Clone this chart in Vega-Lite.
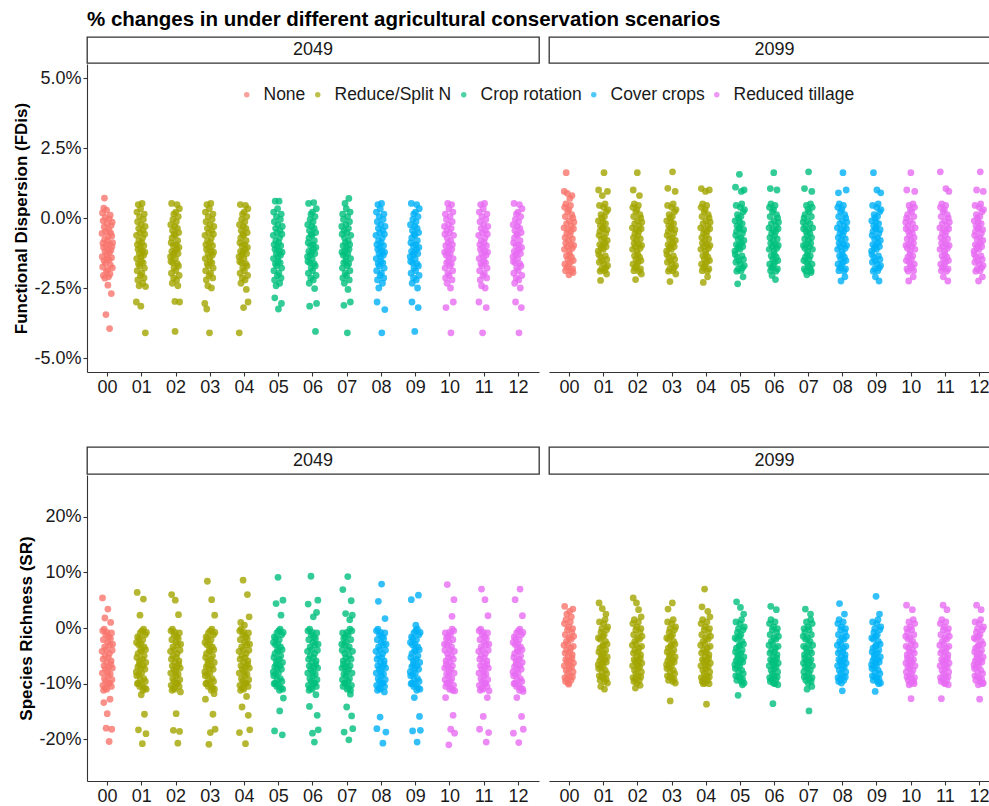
{
"$schema": "https://vega.github.io/schema/vega-lite/v6.json",
"background": "white",
"padding": {"left": 12, "top": 9, "right": 0, "bottom": 0},
"title": {"text": "% changes in under different agricultural conservation scenarios", "anchor": "start", "frame": "group", "fontSize": 20.5, "fontWeight": "bold", "color": "#000000", "font": "Liberation Sans", "offset": 6, "dx": 0},
"config": {
  "font": "Liberation Sans",
  "view": {"stroke": null},
  "axis": {"grid": false, "domainColor": "#333333", "domainWidth": 1.1, "tickColor": "#333333", "tickWidth": 1.1, "tickSize": 4, "labelFontSize": 18, "labelColor": "#1a1a1a", "labelFont": "Liberation Sans", "labelPadding": 2, "titleFontSize": 17, "titleFontWeight": "bold", "titleColor": "#000000", "titleFont": "Liberation Sans"},
  "legend": {"orient": "none", "legendX": 151, "legendY": 49, "direction": "horizontal", "gridAlign": "none", "symbolType": "circle", "symbolSize": 30, "symbolOpacity": 0.7, "symbolStrokeWidth": 0, "labelFontSize": 17.5, "labelColor": "#1a1a1a", "labelFont": "Liberation Sans", "labelOffset": 8, "columnPadding": 3}
},
"datasets": {"d": [
{"m":"F","yr":"2049","s":"00","t":"None","v":[-0.55,-1.38,0.18,-1.75,-0.9,-0.1,-2.05,-1.05,0.35,-1.52,-0.32,0.71,-0.76,-2.15,-1.2,0.02,-1.62,-0.48,-3.45,-0.98,-1.92,0.28,-1.3,-0.2,-1.45,-0.82,-1.85,-2.4,-1.12,-0.66,-2.1,-0.42,-1.5,-0.03,-1.25,-3.95,-0.93,-2.0,0.1,-1.68,-0.53,-1.15,-0.27,-2.7,-1.42,-0.64,-1.02,-0.15,-1.78,-0.88]},
{"m":"F","yr":"2049","s":"01","t":"Reduce/Split N","v":[-3.0,-0.62,-1.45,0.21,-1.88,-0.95,-0.13,-2.21,-1.12,0.48,-1.63,-0.37,-0.81,-2.42,-1.27,0.05,-1.71,-0.52,-1.05,-2.05,0.33,-3.15,-1.38,-0.24,-1.55,-0.88,-1.97,0.52,-1.19,-0.71,-2.33,-0.45,-1.6,-0.05,-1.33,-0.99,-2.14,0.14,-1.79,-0.58,-1.22,-0.3,-4.1,-2.45]},
{"m":"F","yr":"2049","s":"02","t":"Reduce/Split N","v":[-1.38,-0.24,-1.55,-0.88,-1.97,0.52,-1.19,-0.71,-2.33,-0.45,-1.6,-0.05,-1.33,-0.99,-2.14,0.14,-1.79,-0.58,-1.22,-0.3,-2.98,-4.05,-0.62,-1.45,0.21,-1.88,-0.95,-0.13,-2.21,-1.12,0.48,-1.63,-0.37,-0.81,-2.42,-1.27,0.05,-1.71,-0.52,-1.05,-2.05,0.33,-3.0]},
{"m":"F","yr":"2049","s":"03","t":"Reduce/Split N","v":[-3.05,-0.62,-1.45,0.21,-1.88,-0.95,-0.13,-2.21,-1.12,-3.25,0.48,-1.63,-0.37,-0.81,-2.42,-1.27,0.05,-1.71,-0.52,-1.05,-2.05,0.33,-4.1,-1.38,-0.24,-1.55,-0.88,-1.97,0.52,-1.19,-0.71,-2.5,-0.45,-1.6,-0.05,-1.33,-0.99,-2.14,0.14,-1.79,-0.58,-1.22,-0.3]},
{"m":"F","yr":"2049","s":"04","t":"Reduce/Split N","v":[-1.38,-4.1,-0.24,-1.55,-0.88,-1.97,0.48,-1.19,-0.71,-2.33,-0.45,-1.6,-0.05,-1.33,-0.99,-2.14,0.14,-1.79,-0.58,-1.22,-0.3,-3.2,-0.62,-1.45,0.21,-1.88,-0.95,-0.13,-2.21,-1.12,0.45,-1.63,-0.37,-0.81,-2.55,-1.27,0.05,-1.71,-0.52,-1.05,-2.05,0.33,-3.0]},
{"m":"F","yr":"2049","s":"05","t":"Crop rotation","v":[-0.62,-1.45,0.21,-1.88,-0.95,-0.13,-2.21,-2.85,-1.12,0.6,-1.63,-0.37,-0.81,-2.42,-1.27,0.05,-1.71,-0.52,-1.05,-2.05,0.33,-1.38,-0.24,-1.55,-3.25,-0.88,-1.97,0.6,-1.19,-0.71,-2.33,-0.45,-1.6,-0.05,-1.33,-0.99,-2.14,0.14,-3.05,-1.79,-0.58,-1.22,-0.3]},
{"m":"F","yr":"2049","s":"06","t":"Crop rotation","v":[-1.38,-0.24,-1.55,-0.88,-1.97,0.52,-1.19,-0.71,-2.33,-0.45,-3.15,-1.6,-0.05,-1.33,-0.99,-2.14,0.14,-1.79,-0.58,-1.22,-0.3,-0.62,-1.45,0.21,-1.88,-0.95,-0.13,-2.21,-1.12,0.55,-1.63,-0.37,-0.81,-2.52,-1.27,0.05,-1.71,-4.05,-0.52,-1.05,-2.05,0.33,-3.05]},
{"m":"F","yr":"2049","s":"07","t":"Crop rotation","v":[-0.3,-1.22,-0.58,-1.79,0.14,-2.14,-0.99,-1.33,-0.05,-1.6,-3.12,-0.45,-2.33,-0.71,-1.19,0.52,-1.97,-0.88,-1.55,-0.24,-1.38,0.33,-2.05,-1.05,-0.52,-1.71,-4.1,0.05,-1.27,-2.55,-0.81,-0.37,-1.63,0.7,-1.12,-2.21,-0.13,-0.95,-1.88,0.21,-3.0,-1.45,-0.62]},
{"m":"F","yr":"2049","s":"08","t":"Cover crops","v":[-0.62,-1.45,0.21,-1.88,-0.95,-3.0,-0.13,-2.21,-1.12,0.48,-1.63,-0.37,-0.81,-2.5,-1.27,0.05,-1.71,-0.52,-1.05,-2.05,0.33,-1.38,-0.24,-1.55,-0.88,-1.97,0.52,-4.1,-1.19,-0.71,-2.33,-0.45,-1.6,-0.05,-1.33,-0.99,-2.14,0.14,-1.79,-0.58,-1.22,-3.27,-0.3]},
{"m":"F","yr":"2049","s":"09","t":"Cover crops","v":[-1.38,-0.24,-1.55,-0.88,-1.97,0.52,-1.19,-0.71,-3.0,-2.33,-0.45,-1.6,-0.05,-1.33,-0.99,-2.14,0.14,-1.79,-0.58,-1.22,-0.3,-4.05,-0.62,-1.45,0.21,-1.88,-0.95,-0.13,-2.21,-1.12,0.48,-1.63,-0.37,-0.81,-2.5,-1.27,0.05,-3.2,-1.71,-0.52,-1.05,-2.05,0.33]},
{"m":"F","yr":"2049","s":"10","t":"Reduced tillage","v":[-0.3,-1.22,-0.58,-1.79,0.14,-2.14,-0.99,-3.2,-1.33,-0.05,-1.6,-0.45,-2.33,-0.71,-1.19,0.52,-1.97,-0.88,-1.55,-0.24,-1.38,0.33,-2.05,-1.05,-0.52,-1.71,0.05,-1.27,-2.5,-0.81,-4.1,-0.37,-1.63,0.48,-1.12,-2.21,-0.13,-0.95,-1.88,0.21,-1.45,-3.0,-0.62]},
{"m":"F","yr":"2049","s":"11","t":"Reduced tillage","v":[-0.62,-3.0,-1.45,0.21,-1.88,-0.95,-0.13,-2.21,-1.12,0.48,-1.63,-0.37,-0.81,-2.42,-1.27,0.05,-1.71,-0.52,-4.1,-1.05,-2.05,0.33,-1.38,-0.24,-1.55,-0.88,-1.97,0.52,-1.19,-0.71,-2.5,-0.45,-1.6,-0.05,-1.33,-3.2,-0.99,-2.14,0.14,-1.79,-0.58,-1.22,-0.3]},
{"m":"F","yr":"2049","s":"12","t":"Reduced tillage","v":[-1.38,-0.24,-1.55,-0.88,-1.97,0.52,-1.19,-0.71,-2.33,-0.45,-1.6,-0.05,-3.0,-1.33,-0.99,-2.14,0.14,-1.79,-0.58,-1.22,-0.3,-0.62,-1.45,0.21,-1.88,-0.95,-0.13,-2.21,-4.1,-1.12,0.48,-1.63,-0.37,-0.81,-2.5,-1.27,0.05,-1.71,-0.52,-3.2,-1.05,-2.05,0.33]},
{"m":"F","yr":"2099","s":"00","t":"None","v":[-0.35,0.95,-1.12,0.38,-1.65,-0.7,0.05,-1.88,-0.9,0.5,1.62,-1.35,-0.2,-0.55,-1.78,0.88,-1.02,0.22,-1.48,-0.42,-0.8,-1.7,0.3,-2.03,-1.18,-0.1,-1.3,0.7,-0.62,-1.58,0.45,-0.95,-0.48,-1.9,-0.28,-1.4,0.12,0.8,-1.08,-0.75,-1.82,0.0,-1.95,-1.52,-0.38,-0.98,-0.15]},
{"m":"F","yr":"2099","s":"01","t":"Reduce/Split N","v":[-1.18,-0.1,1.0,-1.3,-0.62,-1.58,0.45,-0.95,-0.48,-1.9,-0.28,-2.23,-1.4,0.12,-1.08,-0.75,-1.82,0.0,-1.52,0.8,-0.38,-0.98,-0.15,-0.35,-1.12,0.38,-1.65,1.62,-0.7,0.05,-1.88,-0.9,0.5,-1.35,-0.2,-0.55,-1.78,-1.02,0.22,-2.0,-1.48,-0.42,-0.8,0.95,-1.7,0.3]},
{"m":"F","yr":"2099","s":"02","t":"Reduce/Split N","v":[-0.35,-1.12,0.38,-1.65,1.0,-0.7,0.05,-1.88,-0.9,0.5,-1.35,-0.2,-0.55,-1.78,-1.02,-2.2,0.22,-1.48,-0.42,-0.8,-1.7,0.3,-1.18,1.62,-0.1,-1.3,-0.62,-1.58,0.45,-0.95,-0.48,-1.9,-0.28,0.8,-1.4,0.12,-1.08,-0.75,-1.82,0.0,-1.52,-0.38,-2.0,-0.98,-0.15]},
{"m":"F","yr":"2099","s":"03","t":"Reduce/Split N","v":[-1.18,-0.1,-1.3,-0.62,-1.58,0.45,1.06,-0.95,-0.48,-1.9,-0.28,-1.4,0.12,-1.08,-0.75,-1.82,-2.27,0.0,-1.52,-0.38,-0.98,-0.15,-0.35,-1.12,0.38,-1.65,-0.7,0.05,1.65,-1.88,-0.9,0.5,-1.35,-0.2,-0.55,-1.78,-1.02,0.22,-1.48,-0.42,0.95,-0.8,-1.7,-2.0,0.3]},
{"m":"F","yr":"2099","s":"04","t":"Reduce/Split N","v":[-0.35,-1.12,0.38,1.05,-1.65,-0.7,0.05,-1.88,-0.9,0.5,-1.35,-0.2,-2.3,-0.55,-1.78,-1.02,0.22,-1.48,-0.42,-0.8,-1.7,0.3,0.95,-1.18,-0.1,-1.3,-0.62,-1.58,0.45,-0.95,-0.48,-1.9,-2.1,-0.28,-1.4,0.12,-1.08,-0.75,-1.82,0.0,1.0,-1.52,-0.38,-0.98,-0.15]},
{"m":"F","yr":"2099","s":"05","t":"Crop rotation","v":[-1.18,-0.1,-1.3,1.1,-0.62,-1.58,0.45,-0.95,-0.48,-1.9,-0.28,-1.4,0.12,-2.35,-1.08,-0.75,-1.82,0.0,-1.52,-0.38,-0.98,1.56,-0.15,-0.35,-1.12,0.38,-1.65,-0.7,0.05,-1.88,0.95,-0.9,0.5,-1.35,-0.2,-0.55,-1.78,-1.02,-2.1,0.22,-1.48,-0.42,-0.8,1.0,-1.7,0.3]},
{"m":"F","yr":"2099","s":"06","t":"Crop rotation","v":[-0.35,-1.12,0.38,-1.65,-0.7,0.05,1.05,-1.88,-0.9,0.5,-1.35,-0.2,-0.55,-1.78,-2.05,-1.02,0.22,-1.48,-0.42,-0.8,-1.7,0.3,1.62,-1.18,-0.1,-1.3,-0.62,-1.58,0.45,-0.95,-2.2,-0.48,-1.9,-0.28,-1.4,0.12,-1.08,1.0,-0.75,-1.82,0.0,-1.52,-0.38,-0.98,-0.15]},
{"m":"F","yr":"2099","s":"07","t":"Crop rotation","v":[-0.15,-0.98,-0.38,-1.52,0.0,-1.82,1.05,-0.75,-1.08,0.12,-1.4,-0.28,-1.9,-0.48,-0.95,0.45,-1.58,-2.03,-0.62,-1.3,-0.1,-1.18,0.3,-1.7,-0.8,1.65,-0.42,-1.48,0.22,-1.02,-1.78,-0.55,-0.2,-1.35,0.5,-0.9,-1.95,-1.88,0.05,-0.7,0.95,-1.65,0.38,-1.12,-0.35]},
{"m":"F","yr":"2099","s":"08","t":"Cover crops","v":[-0.35,-1.12,0.38,-1.65,-0.7,0.9,0.05,-1.88,-0.9,0.5,-1.35,-0.2,-0.55,-1.78,-1.02,0.22,-1.48,-2.25,-0.42,-0.8,-1.7,0.3,-1.18,-0.1,-1.3,-0.62,1.62,-1.58,0.45,-0.95,-0.48,-1.9,-0.28,-1.4,0.12,-2.1,-1.08,-0.75,-1.82,0.0,-1.52,1.0,-0.38,-0.98,-0.15]},
{"m":"F","yr":"2099","s":"09","t":"Cover crops","v":[-1.18,-0.1,-1.3,-0.62,-1.58,0.45,-0.95,-0.48,-1.9,1.62,-0.28,-1.4,0.12,-1.08,-0.75,-1.82,0.0,-1.52,-2.1,-0.38,-0.98,-0.15,-0.35,-1.12,0.38,1.0,-1.65,-0.7,0.05,-1.88,-0.9,0.5,-1.35,-0.2,-0.55,-2.25,-1.78,-1.02,0.22,-1.48,-0.42,-0.8,-1.7,0.9,0.3]},
{"m":"F","yr":"2099","s":"10","t":"Reduced tillage","v":[-0.15,-0.98,-0.38,-1.52,0.0,1.0,-1.82,-0.75,-1.08,0.12,-1.4,-0.28,-1.9,-0.48,-2.25,-0.95,0.45,-1.58,-0.62,-1.3,-0.1,-1.18,0.3,-1.7,1.62,-0.8,-0.42,-1.48,0.22,-1.02,-1.78,-0.55,-0.2,-1.35,0.5,-2.1,-0.9,-1.88,0.05,-0.7,-1.65,0.38,0.95,-1.12,-0.35]},
{"m":"F","yr":"2099","s":"11","t":"Reduced tillage","v":[-0.35,-1.12,1.65,0.38,-1.65,-0.7,0.05,-1.88,-0.9,0.5,-1.35,-0.2,-0.55,-1.78,-1.02,0.22,-2.1,-1.48,-0.42,-0.8,-1.7,0.3,-1.18,-0.1,-1.3,-0.62,-1.58,0.45,1.05,-0.95,-0.48,-1.9,-0.28,-1.4,0.12,-1.08,-0.75,-2.25,-1.82,0.0,-1.52,-0.38,0.95,-0.98,-0.15]},
{"m":"F","yr":"2099","s":"12","t":"Reduced tillage","v":[-1.18,-0.1,-1.3,-0.62,-1.58,0.45,-0.95,-0.48,-1.9,-0.28,-1.4,0.12,1.0,-1.08,-0.75,-1.82,0.0,-1.52,-0.38,-0.98,-0.15,-2.25,-0.35,-1.12,0.38,-1.65,-0.7,0.05,-1.88,1.65,-0.9,0.5,-1.35,-0.2,-0.55,-1.78,-1.02,0.22,-1.48,-2.1,-0.42,-0.8,-1.7,0.95,0.3]},
{"m":"S","yr":"2049","s":"00","t":"None","v":[-4.2,-8.1,5.4,-0.5,-10.3,-5.6,-2.1,-11.2,-13.4,-6.8,-0.2,-9.1,-3.4,1.8,-5.0,-10.8,-7.4,-1.2,-9.6,-18.0,-3.9,-6.2,-11.0,-0.8,-15.4,-7.9,-2.6,3.4,-8.6,-5.3,-10.0,-1.6,-7.0,-20.4,-4.6,-9.9,-3.0,-12.8,-8.3,-1.9,1.0,-6.5,-5.9,-10.5,-0.9,-18.2,-9.3,-4.0,-7.2,-2.9]},
{"m":"S","yr":"2049","s":"01","t":"Reduce/Split N","v":[-7.9,-2.6,-8.6,-5.3,6.4,-10.0,-1.6,-7.0,-4.6,-9.9,-18.3,-3.0,-8.3,-1.9,-6.5,-5.9,-10.5,2.3,-0.9,-9.3,-4.0,-7.2,-2.9,-12.0,-4.2,-8.1,-0.5,-10.3,-20.8,-5.6,-2.1,-11.2,-6.8,5.2,-0.2,-9.1,-3.4,-5.0,-15.5,-10.8,-7.4,-1.2,-9.6,-3.9,-6.2,-19.0,-11.0,-0.8]},
{"m":"S","yr":"2049","s":"02","t":"Reduce/Split N","v":[-4.2,-8.1,-0.5,-10.3,-5.6,6.0,-2.1,-11.2,-6.8,-0.2,-9.1,-3.4,-5.0,-18.4,-10.8,-7.4,-1.2,-9.6,-3.9,-6.2,-11.0,-0.8,5.0,-7.9,-2.6,-8.6,-15.4,-5.3,-10.0,-1.6,-7.0,-4.6,-9.9,-3.0,-20.7,-8.3,-1.9,2.4,-6.5,-5.9,-10.5,-0.9,-18.6,-9.3,-4.0,-7.2,-11.5,-2.9]},
{"m":"S","yr":"2049","s":"03","t":"Reduce/Split N","v":[-7.9,-2.6,-8.6,-12.8,-5.3,-10.0,-1.6,-7.0,-4.6,-9.9,-3.0,-8.3,8.4,-1.9,-6.5,-5.9,-10.5,-0.9,-9.3,-20.9,-4.0,-7.2,-2.9,-4.2,-8.1,-0.5,-18.8,-10.3,-5.6,-2.1,-11.2,-6.8,5.1,-0.2,-9.1,-3.4,-5.0,-10.8,-15.5,-7.4,-1.2,-9.6,-3.9,-11.8,-6.2,-11.0,2.3,-0.8,-18.2]},
{"m":"S","yr":"2049","s":"04","t":"Reduce/Split N","v":[-4.2,-8.1,-18.8,-0.5,-10.3,-5.6,-2.1,-11.2,1.0,-6.8,-0.2,-9.1,-3.4,-5.0,-14.2,-10.8,-7.4,-1.2,-9.6,8.6,-3.9,-6.2,-11.0,-0.8,-7.9,0.5,-2.6,-8.6,-5.3,-10.0,-20.8,-1.6,-7.0,-4.6,-9.9,-12.3,-3.0,-8.3,-1.9,6.0,-6.5,-5.9,-10.5,-15.7,-0.9,-9.3,-4.0,2.0,-7.2,-2.9,-18.3]},
{"m":"S","yr":"2049","s":"05","t":"Crop rotation","v":[-7.9,-2.6,-8.6,-5.3,-10.0,-1.6,-18.5,-7.0,-4.6,-9.9,-3.0,-8.3,-1.9,4.4,-6.5,-5.9,-10.5,-0.9,-9.3,-4.0,-7.2,-2.9,9.1,-4.2,-8.1,-0.5,-10.3,-5.6,-2.1,-11.2,-14.9,-6.8,-0.2,-9.1,-3.4,-5.0,2.3,-10.8,-7.4,-1.2,-9.6,-3.9,-19.2,-6.2,-11.0,5.0,-0.8,-12.6]},
{"m":"S","yr":"2049","s":"06","t":"Crop rotation","v":[-4.2,-8.1,-0.5,4.3,-10.3,-5.6,-2.1,-11.2,-6.8,-14.1,-0.2,-9.1,-3.4,-5.0,-10.8,-7.4,9.3,-1.2,-9.6,-3.9,-6.2,-11.0,-0.8,-18.9,-7.9,-2.6,-8.6,2.0,-5.3,-10.0,-1.6,-7.0,-20.5,-4.6,-9.9,-3.0,-8.3,-1.9,-6.5,-12.0,-5.9,-10.5,2.8,-0.9,-9.3,-15.7,-4.0,-7.2,5.0,-2.9,-18.3]},
{"m":"S","yr":"2049","s":"07","t":"Crop rotation","v":[-2.9,-7.2,-4.0,-9.3,-0.9,6.9,-10.5,-5.9,-6.5,-1.9,-8.3,-18.7,-3.0,-9.9,-4.6,-7.0,-1.6,-10.0,2.6,-5.3,-8.6,-2.6,-7.9,-14.2,-0.8,-11.0,-6.2,-3.9,9.25,-9.6,-1.2,-7.4,-10.8,-20.1,-5.0,-3.4,-9.1,1.5,-0.2,-6.8,-11.9,-11.2,-2.1,-5.6,4.9,-10.3,-15.8,-0.5,-8.1,2.3,-4.2,-18.1]},
{"m":"S","yr":"2049","s":"08","t":"Cover crops","v":[-4.2,-8.1,-0.5,-10.3,-18.1,-5.6,-2.1,-11.2,-6.8,-0.2,-9.1,4.8,-3.4,-5.0,-10.8,-7.4,-1.2,-9.6,-3.9,-16.0,-6.2,-11.0,-0.8,-7.9,-2.6,-8.6,7.9,-5.3,-10.0,-1.6,-7.0,-4.6,-20.7,-9.9,-3.0,-8.3,-1.9,-6.5,-5.9,-11.5,-10.5,-0.9,1.7,-9.3,-4.0,-7.2,-18.7,-2.9]},
{"m":"S","yr":"2049","s":"09","t":"Cover crops","v":[-7.9,-2.6,-8.6,-5.3,-10.0,5.1,-1.6,-7.0,-4.6,-9.9,-3.0,-18.5,-8.3,-1.9,-6.5,-5.9,-10.5,-0.9,-9.3,-12.5,-4.0,-7.2,-2.9,-4.2,-8.1,-0.5,0.5,-10.3,-5.6,-2.1,-11.2,-6.8,-20.5,-0.2,-9.1,-3.4,-5.0,-10.8,5.9,-7.4,-1.2,-9.6,-3.9,-15.9,-6.2,-11.0,-0.8,-18.4]},
{"m":"S","yr":"2049","s":"10","t":"Reduced tillage","v":[-2.9,-7.2,-4.0,-9.3,-0.9,-12.5,-10.5,-5.9,-6.5,-1.9,-8.3,-3.0,-9.9,7.8,-4.6,-7.0,-1.6,-10.0,-5.3,-8.6,-21.0,-2.6,-7.9,-0.8,-11.0,-6.2,-3.9,-9.6,-1.2,-18.2,-7.4,-10.8,-5.0,-3.4,-9.1,2.1,-0.2,-6.8,-11.2,-2.1,-15.7,-5.6,-10.3,-0.5,5.1,-8.1,-4.2,-18.9,-11.3]},
{"m":"S","yr":"2049","s":"11","t":"Reduced tillage","v":[-4.2,-8.1,-0.5,-10.3,-18.2,-5.6,-2.1,-11.2,-6.8,-0.2,-9.1,-3.4,-5.0,7.0,-10.8,-7.4,-1.2,-9.6,-3.9,-6.2,-11.0,-15.9,-0.8,-7.9,-2.6,-8.6,-5.3,-10.0,-1.6,5.1,-7.0,-4.6,-9.9,-3.0,-8.3,-20.5,-1.9,-6.5,-5.9,-10.5,-12.5,-0.9,-9.3,2.2,-4.0,-7.2,-18.8,-2.9,-11.3]},
{"m":"S","yr":"2049","s":"12","t":"Reduced tillage","v":[-7.9,-2.6,-18.9,-8.6,-5.3,-10.0,-1.6,-7.0,-4.6,-9.9,5.1,-3.0,-8.3,-1.9,-6.5,-5.9,-10.5,-0.9,-12.5,-9.3,-4.0,-7.2,-2.9,-4.2,-8.1,-0.5,-10.3,-20.6,-5.6,-2.1,-11.2,-6.8,-0.2,7.0,-9.1,-3.4,-5.0,-10.8,-7.4,-1.2,-15.9,-9.6,-3.9,-6.2,2.2,-11.0,-0.8,-11.4,-18.2]},
{"m":"S","yr":"2099","s":"00","t":"None","v":[-3.1,-6.8,0.8,3.9,-8.9,-4.5,-1.2,-9.6,-5.7,1.5,-7.6,-2.4,-4.0,2.5,-9.2,-6.1,-0.3,-8.2,-2.9,-5.2,-9.9,0.2,-10.1,-6.6,-1.8,-7.3,3.0,-4.3,-8.6,1.1,-5.9,-3.6,-9.4,-2.0,2.0,-7.0,-0.8,-5.4,-4.8,-8.8,-0.1,3.4,-7.9,-3.3,-6.3,-1.5]},
{"m":"S","yr":"2099","s":"01","t":"Reduce/Split N","v":[-6.6,-1.8,-7.3,-4.3,4.5,-8.6,1.1,-5.9,-3.6,-9.4,-2.0,-7.0,-10.5,-0.8,-5.4,-4.8,-8.8,-0.1,-7.9,3.5,-3.3,-6.3,-1.5,-3.1,-6.8,0.8,-8.9,-4.5,-1.2,-11.0,-9.6,-5.7,1.5,-7.6,-2.4,-4.0,2.5,-9.2,-6.1,-0.3,-8.2,-2.9,-5.2,-9.9,0.2]},
{"m":"S","yr":"2099","s":"02","t":"Reduce/Split N","v":[-3.1,-6.8,0.8,-8.9,5.4,-4.5,-1.2,-9.6,-5.7,1.5,-7.6,-2.4,-4.0,-9.2,-10.8,-6.1,-0.3,-8.2,-2.9,4.5,-5.2,-9.9,0.2,-6.6,-1.8,-7.3,-4.3,-8.6,1.1,3.3,-5.9,-3.6,-9.4,-2.0,-7.0,-0.8,-10.3,-5.4,-4.8,-8.8,-0.1,2.0,-7.9,-3.3,-6.3,-1.5]},
{"m":"S","yr":"2099","s":"03","t":"Reduce/Split N","v":[-6.6,-1.8,-7.3,-4.3,-8.6,1.1,-5.9,3.4,-3.6,-9.4,-2.0,-7.0,-0.8,-5.4,-4.8,-8.8,-0.1,-13.1,-7.9,-3.3,-6.3,-1.5,-3.1,-6.8,0.8,-8.9,-4.5,4.5,-1.2,-9.6,-5.7,1.5,-7.6,-2.4,-4.0,-9.2,-6.1,-0.3,-8.2,-2.9,-5.2,-9.9,0.2]},
{"m":"S","yr":"2099","s":"04","t":"Reduce/Split N","v":[-3.1,-6.8,0.8,-8.9,-4.5,-1.2,3.8,-9.6,-5.7,1.5,-7.6,-2.4,-10.0,-4.0,-9.2,-6.1,-0.3,-8.2,7.0,-2.9,-5.2,-9.9,0.2,-6.6,-1.8,-7.3,-4.3,-13.7,-8.6,1.1,-5.9,-3.6,-9.4,3.0,-2.0,-7.0,-0.8,-5.4,-4.8,-10.0,-8.8,-0.1,-7.9,2.0,-3.3,-6.3,-1.5]},
{"m":"S","yr":"2099","s":"05","t":"Crop rotation","v":[-6.6,-1.8,-7.3,-4.3,-8.6,1.1,-5.9,-3.6,4.7,-9.4,-2.0,-7.0,-0.8,-5.4,-4.8,-12.1,-8.8,-0.1,-7.9,-3.3,-6.3,-1.5,-3.1,-6.8,0.8,-8.9,3.7,-4.5,-1.2,-9.6,-5.7,1.5,-7.6,-2.4,-4.0,-10.2,-9.2,-6.1,-0.3,-8.2,-2.9,2.5,-5.2,-9.9,0.2]},
{"m":"S","yr":"2099","s":"06","t":"Crop rotation","v":[-3.1,-6.8,0.8,-8.9,-4.5,-1.2,-9.6,-5.7,3.9,1.5,-7.6,-2.4,-4.0,-9.2,-6.1,-0.3,-8.2,-2.9,-13.6,-5.2,-9.9,0.2,-6.6,-1.8,-7.3,-4.3,-8.6,-10.0,1.1,-5.9,-3.6,-9.4,-2.0,-7.0,3.3,-0.8,-5.4,-4.8,-8.8,-0.1,-7.9,-10.2,-3.3,-6.3,-1.5]},
{"m":"S","yr":"2099","s":"07","t":"Crop rotation","v":[-1.5,-6.3,-3.3,-7.9,-0.1,-8.8,-4.8,-5.4,-0.8,-7.0,3.4,-2.0,-9.4,-3.6,-5.9,1.1,-8.6,-4.3,-11.0,-7.3,-1.8,-6.6,0.2,-9.9,-5.2,-2.9,-8.2,-14.9,-0.3,-6.1,-9.2,-4.0,-2.4,-7.6,2.5,1.5,-5.7,-9.6,-1.2,-4.5,-10.5,-8.9,0.8,-6.8,-3.1]},
{"m":"S","yr":"2099","s":"08","t":"Cover crops","v":[-3.1,-6.8,0.8,-8.9,-4.5,-1.2,-9.6,-5.7,1.5,-7.6,4.4,-2.4,-4.0,-9.2,-6.1,-0.3,-8.2,-2.9,-5.2,-9.9,0.2,-6.6,-1.8,-11.3,-7.3,-4.3,-8.6,1.1,-5.9,-3.6,-9.4,-2.0,-7.0,2.5,-0.8,-5.4,-4.8,-8.8,-0.1,-7.9,-3.3,-6.3,-1.5]},
{"m":"S","yr":"2099","s":"09","t":"Cover crops","v":[-6.6,-1.8,-7.3,-4.3,-8.6,1.1,-5.9,-3.6,-9.4,-2.0,-7.0,-0.8,-5.4,-4.8,-8.8,-0.1,-7.9,-11.4,-3.3,-6.3,-1.5,5.7,-3.1,-6.8,0.8,-8.9,-4.5,-1.2,-9.6,-5.7,1.5,-7.6,-2.4,-10.0,-4.0,-9.2,-6.1,2.5,-0.3,-8.2,-2.9,-5.2,-9.9,0.2]},
{"m":"S","yr":"2099","s":"10","t":"Reduced tillage","v":[-1.5,-6.3,-3.3,-7.9,4.1,-0.1,-8.8,-4.8,-5.4,-0.8,-7.0,-2.0,-9.4,-3.6,-5.9,1.1,-10.2,-8.6,-4.3,-7.3,-1.8,-6.6,0.2,-9.9,-5.2,-12.7,-2.9,-8.2,-0.3,-6.1,-9.2,3.3,-4.0,-2.4,-7.6,1.5,-5.7,-9.6,-1.2,-10.0,-4.5,-8.9,0.8,-6.8,-3.1]},
{"m":"S","yr":"2099","s":"11","t":"Reduced tillage","v":[-3.1,-6.8,0.8,-8.9,-4.5,-1.2,-9.6,-12.7,-5.7,1.5,-7.6,-2.4,-4.0,-9.2,-6.1,4.1,-0.3,-8.2,-2.9,-5.2,-9.9,0.2,-6.6,-1.8,-7.3,-10.0,-4.3,-8.6,1.1,-5.9,-3.6,-9.4,-2.0,3.3,-7.0,-0.8,-5.4,-4.8,-8.8,-10.2,-0.1,-7.9,-3.3,-6.3,-1.5]},
{"m":"S","yr":"2099","s":"12","t":"Reduced tillage","v":[-6.6,-1.8,-7.3,-4.3,-8.6,1.1,-5.9,-3.6,-9.4,-2.0,-7.0,-0.8,4.1,-5.4,-4.8,-8.8,-0.1,-7.9,-3.3,-6.3,-10.2,-1.5,-3.1,-6.8,0.8,-8.9,-12.8,-4.5,-1.2,-9.6,-5.7,1.5,-7.6,3.3,-2.4,-4.0,-9.2,-6.1,-0.3,-10.0,-8.2,-2.9,-5.2,-9.9,0.2]}
]},
"spacing": 50,
"vconcat": [
 {"spacing": 8, "hconcat": [
  {"spacing": 0, "vconcat": [
   {"width": 452, "height": 26, "data": {"values": [{"yr": "2049"}]}, "mark": {"type": "text", "fontSize": 18, "color": "#1a1a1a", "font": "Liberation Sans"}, "encoding": {"text": {"field": "yr"}}, "view": {"stroke": "#333333", "strokeWidth": 1.3}},
   {"width": 452, "height": 308, "data": {"name": "d"},
    "transform": [{"filter": "datum.m === 'F' && datum.yr === '2049'"}, {"flatten": ["v"]}, {"window": [{"op": "row_number", "as": "i"}], "groupby": ["s"]}],
    "mark": {"type": "circle", "size": 46, "opacity": 0.8},
    "encoding": {
     "x": {"field": "s", "type": "ordinal", "scale": {"type": "band", "paddingInner": 0.68, "paddingOuter": 0.44}, "axis": {"title": null, "labelAngle": 0, "bandPosition": 0.5}},
     "xOffset": {"field": "i", "type": "nominal", "scale": {"paddingInner": 0, "paddingOuter": 0}},
     "y": {"field": "v", "type": "quantitative", "scale": {"domain": [-5.5, 5.5], "nice": false, "zero": false}, "axis": {"values": [-5, -2.5, 0, 2.5, 5], "labelExpr": "(datum.value < 0 ? '-' : '') + format(abs(datum.value), '.1f') + '%'", "title": "Functional Dispersion (FDis)", "titlePadding": 3}},
     "color": {"field": "t", "type": "nominal", "scale": {"domain": ["None", "Reduce/Split N", "Crop rotation", "Cover crops", "Reduced tillage"], "range": ["#F8766D", "#A3A500", "#00BF7D", "#00B0F6", "#E76BF3"]}, "legend": {"title": null}}
    }}
  ]},
  {"spacing": 0, "vconcat": [
   {"width": 451, "height": 26, "data": {"values": [{"yr": "2099"}]}, "mark": {"type": "text", "fontSize": 18, "color": "#1a1a1a", "font": "Liberation Sans"}, "encoding": {"text": {"field": "yr"}}, "view": {"stroke": "#333333", "strokeWidth": 1.3}},
   {"width": 451, "height": 308, "data": {"name": "d"},
    "transform": [{"filter": "datum.m === 'F' && datum.yr === '2099'"}, {"flatten": ["v"]}, {"window": [{"op": "row_number", "as": "i"}], "groupby": ["s"]}],
    "mark": {"type": "circle", "size": 46, "opacity": 0.8},
    "encoding": {
     "x": {"field": "s", "type": "ordinal", "scale": {"type": "band", "paddingInner": 0.68, "paddingOuter": 0.44}, "axis": {"title": null, "labelAngle": 0, "bandPosition": 0.5}},
     "xOffset": {"field": "i", "type": "nominal", "scale": {"paddingInner": 0, "paddingOuter": 0}},
     "y": {"field": "v", "type": "quantitative", "scale": {"domain": [-5.5, 5.5], "nice": false, "zero": false}, "axis": null},
     "color": {"field": "t", "type": "nominal", "scale": {"domain": ["None", "Reduce/Split N", "Crop rotation", "Cover crops", "Reduced tillage"], "range": ["#F8766D", "#A3A500", "#00BF7D", "#00B0F6", "#E76BF3"]}, "legend": {"title": null}}
    }}
  ]}
 ]},
 {"spacing": 8, "hconcat": [
  {"spacing": 0, "vconcat": [
   {"width": 452, "height": 27, "data": {"values": [{"yr": "2049"}]}, "mark": {"type": "text", "fontSize": 18, "color": "#1a1a1a", "font": "Liberation Sans"}, "encoding": {"text": {"field": "yr"}}, "view": {"stroke": "#333333", "strokeWidth": 1.3}},
   {"width": 452, "height": 306, "data": {"name": "d"},
    "transform": [{"filter": "datum.m === 'S' && datum.yr === '2049'"}, {"flatten": ["v"]}, {"window": [{"op": "row_number", "as": "i"}], "groupby": ["s"]}],
    "mark": {"type": "circle", "size": 46, "opacity": 0.8},
    "encoding": {
     "x": {"field": "s", "type": "ordinal", "scale": {"type": "band", "paddingInner": 0.68, "paddingOuter": 0.44}, "axis": {"title": null, "labelAngle": 0, "bandPosition": 0.5}},
     "xOffset": {"field": "i", "type": "nominal", "scale": {"paddingInner": 0, "paddingOuter": 0}},
     "y": {"field": "v", "type": "quantitative", "scale": {"domain": [-27.5, 27.5], "nice": false, "zero": false}, "axis": {"values": [-20, -10, 0, 10, 20], "labelExpr": "(datum.value < 0 ? '-' : '') + format(abs(datum.value), '.0f') + '%'", "title": "Species Richness (SR)", "titlePadding": 3}},
     "color": {"field": "t", "type": "nominal", "scale": {"domain": ["None", "Reduce/Split N", "Crop rotation", "Cover crops", "Reduced tillage"], "range": ["#F8766D", "#A3A500", "#00BF7D", "#00B0F6", "#E76BF3"]}, "legend": {"title": null}}
    }}
  ]},
  {"spacing": 0, "vconcat": [
   {"width": 451, "height": 27, "data": {"values": [{"yr": "2099"}]}, "mark": {"type": "text", "fontSize": 18, "color": "#1a1a1a", "font": "Liberation Sans"}, "encoding": {"text": {"field": "yr"}}, "view": {"stroke": "#333333", "strokeWidth": 1.3}},
   {"width": 451, "height": 306, "data": {"name": "d"},
    "transform": [{"filter": "datum.m === 'S' && datum.yr === '2099'"}, {"flatten": ["v"]}, {"window": [{"op": "row_number", "as": "i"}], "groupby": ["s"]}],
    "mark": {"type": "circle", "size": 46, "opacity": 0.8},
    "encoding": {
     "x": {"field": "s", "type": "ordinal", "scale": {"type": "band", "paddingInner": 0.68, "paddingOuter": 0.44}, "axis": {"title": null, "labelAngle": 0, "bandPosition": 0.5}},
     "xOffset": {"field": "i", "type": "nominal", "scale": {"paddingInner": 0, "paddingOuter": 0}},
     "y": {"field": "v", "type": "quantitative", "scale": {"domain": [-27.5, 27.5], "nice": false, "zero": false}, "axis": null},
     "color": {"field": "t", "type": "nominal", "scale": {"domain": ["None", "Reduce/Split N", "Crop rotation", "Cover crops", "Reduced tillage"], "range": ["#F8766D", "#A3A500", "#00BF7D", "#00B0F6", "#E76BF3"]}, "legend": {"title": null}}
    }}
  ]}
 ]}
]
}
